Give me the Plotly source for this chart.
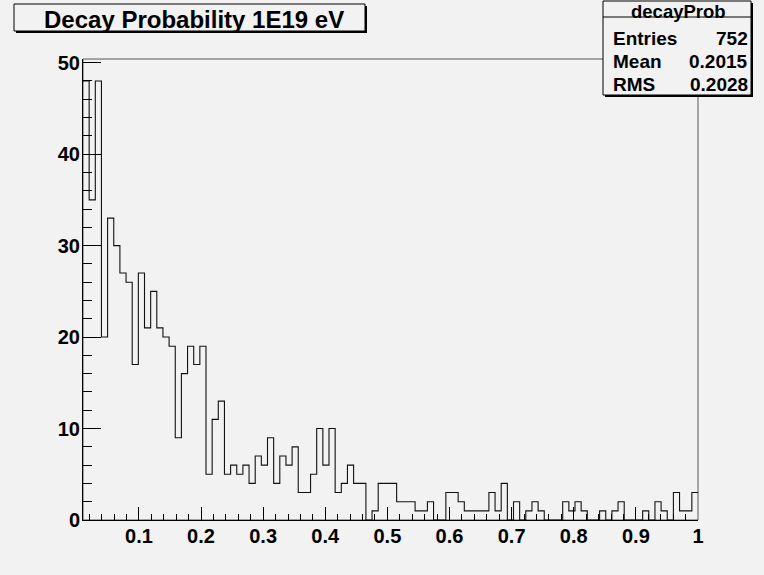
import plotly.graph_objects as go

# Histogram "decayProb": 100 bins between X_MIN and X_MAX
X_MIN = 0.01
X_MAX = 1.0
N_BINS = 100
counts = [
    48, 35, 48, 20, 33, 30, 27, 26, 17, 27,
    21, 25, 21, 20, 19, 9, 16, 19, 17, 19,
    5, 11, 13, 5, 6, 5, 6, 4, 7, 6,
    9, 4, 7, 6, 8, 3, 3, 5, 10, 6,
    10, 3, 4, 6, 4, 4, 0, 1, 4, 4,
    4, 2, 2, 2, 1, 1, 2, 0, 0, 3,
    3, 2, 1, 1, 1, 1, 3, 1, 4, 0,
    2, 0, 1, 2, 1, 0, 0, 0, 2, 1,
    2, 1, 0, 0, 1, 0, 1, 2, 0, 0,
    0, 1, 0, 2, 1, 0, 3, 1, 1, 3,
]
title_text = "Decay Probability 1E19 eV"
stats_name = "decayProb"
stats_labels = ["Entries", "Mean", "RMS"]
stats_values = ["752", "0.2015", "0.2028"]

W, H = 764, 575
L, R, T, B = 83, 698, 59, 520
BG = "#f2f2f2"
FONT = "Liberation Sans, Arial, Helvetica, sans-serif"


def fx(px):
    return (px - L) / (R - L)


def fy(py):
    return (B - py) / (B - T)


width = (X_MAX - X_MIN) / N_BINS
edges = [X_MIN + i * width for i in range(N_BINS + 1)]
ymax = max(counts) * 1.05

fig = go.Figure()
fig.add_trace(go.Scatter(
    x=edges,
    y=counts + [counts[-1]],
    mode="lines",
    line=dict(shape="hv", color="#111111", width=1.1),
    hoverinfo="skip",
    showlegend=False,
))

shapes = []
# frame
shapes.append(dict(type="rect", xref="paper", yref="paper", x0=0, x1=1, y0=0, y1=1,
                   line=dict(color="#555555", width=1), layer="below"))


def box(x0, y0, x1, y1):
    # drop shadow then the box itself
    shapes.append(dict(type="rect", xref="paper", yref="paper",
                       x0=fx(x0 + 2), x1=fx(x1 + 2), y0=fy(y1 + 2), y1=fy(y0 + 2),
                       fillcolor="black", line=dict(width=0), layer="above"))
    shapes.append(dict(type="rect", xref="paper", yref="paper",
                       x0=fx(x0), x1=fx(x1), y0=fy(y1), y1=fy(y0),
                       fillcolor=BG, line=dict(color="black", width=1), layer="above"))


box(14, 4, 365, 31)
box(603, 1, 751, 95)
shapes.append(dict(type="line", xref="paper", yref="paper",
                   x0=fx(603), x1=fx(751), y0=fy(17), y1=fy(17),
                   line=dict(color="black", width=1), layer="above"))

annotations = [
    dict(text=title_text, x=fx(194), y=fy(20), xref="paper", yref="paper",
         xanchor="center", yanchor="middle", showarrow=False,
         font=dict(family=FONT, size=24, color="black", weight="bold")),
    dict(text=stats_name, x=fx(678), y=fy(11), xref="paper", yref="paper",
         xanchor="center", yanchor="middle", showarrow=False,
         font=dict(family=FONT, size=18.5, color="black", weight="bold")),
]
for i, (lab, val) in enumerate(zip(stats_labels, stats_values)):
    yy = 38.5 + i * 23.2
    annotations.append(dict(text=lab, x=fx(611), y=fy(yy), xref="paper", yref="paper",
                            xanchor="left", yanchor="middle", showarrow=False,
                            font=dict(family=FONT, size=19, color="black", weight="bold")))
    annotations.append(dict(text=val, x=fx(750), y=fy(yy), xref="paper", yref="paper",
                            xanchor="right", yanchor="middle", showarrow=False,
                            font=dict(family=FONT, size=19, color="black", weight="bold")))

tickfont = dict(family=FONT, size=20, color="black", weight="bold")
fig.update_layout(
    width=W, height=H,
    margin=dict(l=L, r=W - R, t=T, b=H - B),
    paper_bgcolor=BG, plot_bgcolor=BG,
    shapes=shapes, annotations=annotations,
    xaxis=dict(range=[X_MIN, X_MAX], showgrid=False, zeroline=False,
               showline=True, linecolor="black", linewidth=1,
               ticks="inside", ticklen=13, tickcolor="black", tickwidth=1,
               tick0=0, dtick=0.1, tickfont=tickfont, ticklabelstandoff=-2,
               minor=dict(ticks="inside", ticklen=6, dtick=0.02, tick0=0,
                          tickcolor="black", showgrid=False)),
    yaxis=dict(range=[0, ymax], showgrid=False, zeroline=False,
               showline=True, linecolor="black", linewidth=1,
               ticks="inside", ticklen=18, tickcolor="black", tickwidth=1,
               tick0=0, dtick=10, tickfont=tickfont, ticklabelstandoff=-2,
               minor=dict(ticks="inside", ticklen=9, dtick=2, tick0=0,
                          tickcolor="black", showgrid=False)),
)

fig.write_html("out.html")
